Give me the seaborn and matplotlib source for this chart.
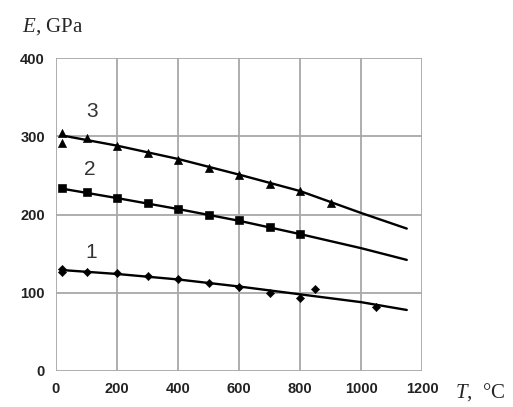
import matplotlib
matplotlib.use("Agg")
import matplotlib.pyplot as plt
import seaborn as sns

# measured points
T3 = [20, 20, 100, 200, 300, 400, 500, 600, 700, 800, 900]
E3 = [304, 292, 298, 287, 278, 270, 259, 250, 239, 230, 215]
T2 = [20, 100, 200, 300, 400, 500, 600, 700, 800]
E2 = [234, 229, 221, 215, 207, 199, 193, 184, 175]
T1 = [20, 20, 100, 200, 300, 400, 500, 600, 700, 800, 850, 1050]
E1 = [130, 127, 126, 125, 121, 117, 113, 107, 100, 93, 105, 82]

# fitted curves
T_fit = [20, 200, 400, 600, 800, 1000, 1150]
E3_fit = [301, 288, 271, 251, 230, 202, 182]
E2_fit = [233, 221, 207, 192, 175, 157, 142]
E1_fit = [129, 124, 117, 108, 98, 88, 78]

x_ticks = [0, 200, 400, 600, 800, 1000, 1200]
y_ticks = [0, 100, 200, 300, 400]
curve_labels = ["1", "2", "3"]

sns.set_style("white")
plt.rcParams["font.family"] = ["Liberation Sans", "DejaVu Sans"]
plt.rcParams["mathtext.fontset"] = "custom"
plt.rcParams["mathtext.it"] = "Liberation Serif:italic"
plt.rcParams["mathtext.rm"] = "Liberation Serif"

fig = plt.figure(figsize=(5.13, 4.07), dpi=100)
ax = fig.add_axes([56/513, 1-371/407, (422-56)/513, (371-58)/407])

grid_c = "#a8a8a8"
for v in x_ticks:
    ax.axvline(v, color=grid_c, lw=1.3, zorder=0)
for v in y_ticks:
    ax.axhline(v, color=grid_c, lw=1.3, zorder=0)

for Tf, Ef in [(T_fit, E3_fit), (T_fit, E2_fit), (T_fit, E1_fit)]:
    sns.lineplot(x=Tf, y=Ef, ax=ax, color="black", lw=1.7, zorder=2)

sns.scatterplot(x=T3, y=E3, ax=ax, marker="^", s=34, color="black", edgecolor="black", zorder=3)
sns.scatterplot(x=T2, y=E2, ax=ax, marker="s", s=32, color="black", edgecolor="black", zorder=3)
sns.scatterplot(x=T1, y=E1, ax=ax, marker="D", s=18, color="black", edgecolor="black", zorder=3)

ax.set_xlim(0, 1200)
ax.set_ylim(0, 400)
ax.set_xticks(x_ticks)
ax.set_yticks(y_ticks)
for s in ax.spines.values():
    s.set_visible(False)
ax.tick_params(axis="both", length=3, width=1.2, color=grid_c, pad=5,
               labelsize=10.5, direction="out")
for lab in ax.get_xticklabels() + ax.get_yticklabels():
    lab.set_fontweight("bold")
    lab.set_color("#222222")

label_pos = [(115, 151), (112, 257), (118, 331)]
for txt, (lx, ly) in zip(curve_labels, label_pos):
    ax.text(lx, ly, txt, fontsize=15, ha="center", va="center", color="#333333")

serif = ["Liberation Serif", "DejaVu Serif"]
fig.text(22/513, 1-32/407, "$E$, GPa", fontsize=15, family=serif,
         ha="left", va="baseline")
fig.text(455/513, 1-398/407, "$T$,  \u00b0C", fontsize=15, family=serif,
         ha="left", va="baseline")

fig.savefig("out.png", dpi=100)
